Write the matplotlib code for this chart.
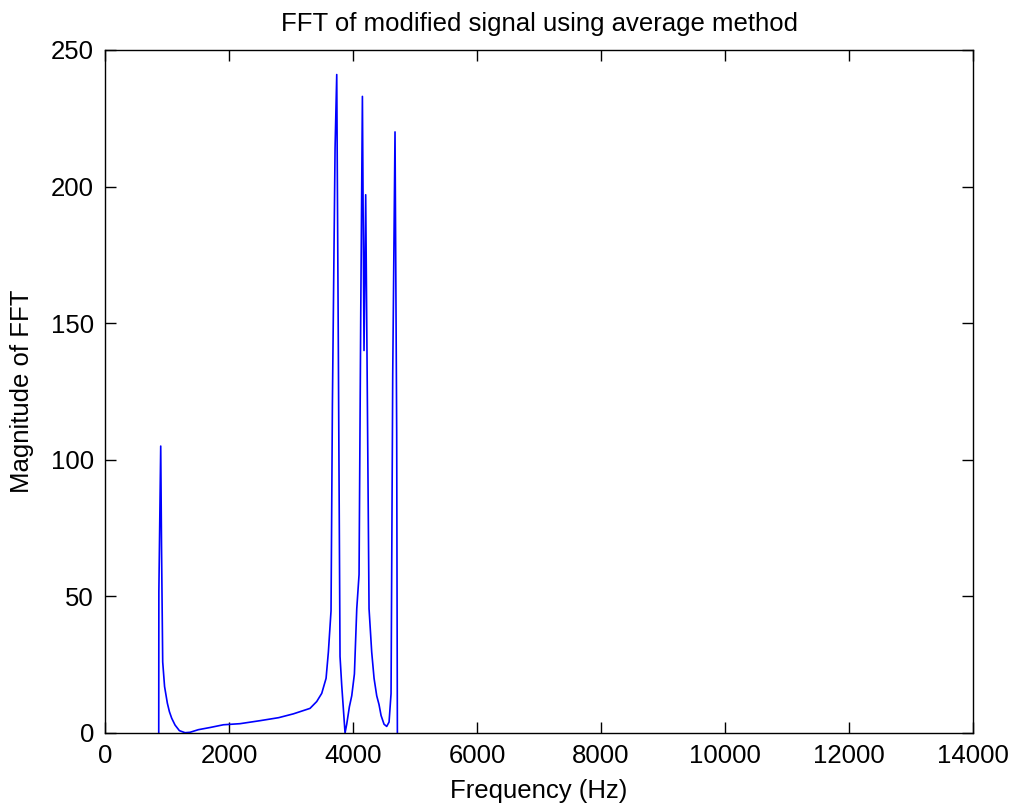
import matplotlib
matplotlib.use("Agg")
import matplotlib.pyplot as plt

# spectrum (Hz, magnitude)
freq_hz = [866, 868, 898, 911, 930, 960, 1005, 1038, 1075, 1129, 1199, 1290,
           1371, 1505, 1694, 1909, 2177, 2500, 2800, 3038, 3306, 3414, 3495, 3565,
           3602, 3645, 3667, 3710, 3737, 3763, 3790, 3817, 3844, 3871, 3898,
           3941, 3979, 4022, 4060, 4097, 4124, 4151, 4177, 4204, 4231, 4258,
           4301, 4339, 4382, 4419, 4452, 4500, 4543, 4581, 4613, 4640, 4677,
           4704, 4715]
magnitude = [0, 51.7, 105, 68, 26, 17, 10.9, 7.8, 5.4, 2.9, 0.85, 0.1,
             0.25, 1.2, 2.0, 3.0, 3.4, 4.5, 5.6, 7.0, 9.0, 11.5, 14.5, 20,
             29.6, 44.7, 120, 214, 241, 140, 28, 17.6, 8.8, 0, 3.2,
             9.6, 13.6, 21.6, 45.5, 58, 152.6, 233, 140, 197, 122, 45.5,
             29.6, 20, 13.6, 10.4, 6.4, 3.2, 2.4, 4, 14.4, 131, 220,
             110, 0]

x_ticks = [0, 2000, 4000, 6000, 8000, 10000, 12000, 14000]
y_ticks = [0, 50, 100, 150, 200, 250]

plt.rcParams['font.family'] = ['Liberation Sans', 'DejaVu Sans']
fs = 18.5

fig = plt.figure(figsize=(10.12, 8.10), dpi=100, facecolor='white')
ax = fig.add_axes([0.1038, 0.0951, 0.8577, 0.8432])
ax.plot(freq_hz, magnitude, color=(0, 0, 1), lw=1.2)

ax.set_xlim(0, 14000)
ax.set_ylim(0, 250)
ax.set_xticks(x_ticks)
ax.set_yticks(y_ticks)
ax.tick_params(direction='in', top=True, right=True, length=8, width=1,
               labelsize=fs, pad=8)
for s in ax.spines.values():
    s.set_linewidth(1)

ax.set_title('FFT of modified signal using average method', fontsize=fs, pad=14)
ax.set_xlabel('Frequency (Hz)', fontsize=fs, labelpad=8)
ax.set_ylabel('Magnitude of FFT', fontsize=fs, labelpad=12)

plt.savefig('out.png', dpi=100, facecolor='white')
